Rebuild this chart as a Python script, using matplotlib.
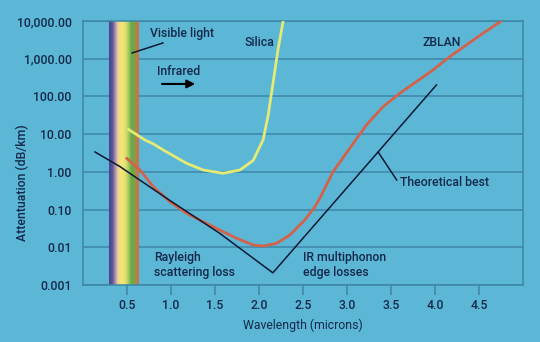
import numpy as np
import matplotlib
matplotlib.use("Agg")
import matplotlib.pyplot as plt
from matplotlib.colors import LinearSegmentedColormap

# Colours
BG = "#5cb7d6"
GRID = "#3d86a6"
TEXT = "#14284a"
SILICA_C = "#e4ea74"
ZBLAN_C = "#d4624a"
BEST_C = "#0b1a33"

plt.rcParams["font.family"] = ["Roboto", "Liberation Sans", "DejaVu Sans"]
plt.rcParams["font.weight"] = "medium"
plt.rcParams["font.size"] = 8.8

# Data (wavelength in microns, attenuation in dB/km)
silica_wl = [0.519, 0.708, 0.802, 0.916, 1.181, 1.369, 1.596, 1.786, 1.937, 1.993, 2.050,
             2.107, 2.164, 2.221, 2.277]
silica_att = [13.4, 7.0, 5.5, 3.79, 1.68, 1.12, 0.914, 1.12, 2.0, 3.79, 7.1,
              32, 245, 1890, 10000]

zblan_wl = [0.500, 0.651, 0.802, 0.991, 1.181, 1.369, 1.557, 1.748, 1.936, 2.050, 2.202,
            2.353, 2.466, 2.523, 2.636, 2.693, 2.844, 3.033, 3.223, 3.411, 3.601, 3.790, 3.979,
            4.168, 4.357, 4.546, 4.754]
zblan_att = [2.29, 1.12, 0.404, 0.161, 0.0796, 0.0476, 0.0287, 0.0173, 0.0115, 0.0108, 0.0127,
             0.0211, 0.0389, 0.0528, 0.117, 0.199, 1.01, 4.21, 17.5, 53.3, 121, 246, 502,
             1130, 2310, 4720, 10000]

best_wl = [0.141, 0.425, 0.991, 1.557, 2.160, 4.017]
best_att = [3.36, 1.37, 0.174, 0.0234, 0.0021, 201]

ytick_vals = [0.001, 0.01, 0.1, 1, 10, 100, 1000, 10000]
ytick_labels = ["0.001", "0.01", "0.10", "1.00", "10.00", "100.00", "1,000.00", "10,000.00"]
xtick_vals = [0.5, 1.0, 1.5, 2.0, 2.5, 3.0, 3.5, 4.0, 4.5]

# visible spectrum band, left to right
band_range = (0.30, 0.645)
band_colors = ["#444690", "#5e5498", "#a88aa8", "#e6d2a4", "#f6e46e", "#f3e476",
               "#d8dc72", "#9cc85c", "#6aaa48", "#78a448", "#c8784a", "#c4724a"]

fig = plt.figure(figsize=(5.4, 3.42), dpi=100, facecolor=BG)
ax = fig.add_axes([0.153, 0.1667, 0.8155, 0.772])
ax.set_facecolor(BG)
ax.set_yscale("log")

# grid
for v in ytick_vals:
    ax.axhline(v, color=GRID, lw=1.1, zorder=1)

# spectrum band
cmap = LinearSegmentedColormap.from_list("spec", band_colors)
grad = np.linspace(0, 1, 200).reshape(1, -1)
ax.imshow(grad, cmap=cmap, aspect="auto", extent=[band_range[0], band_range[1], 1e-3, 1e4],
          zorder=2, interpolation="bilinear")
ax.set_xlim(0, 5)
ax.set_ylim(1e-3, 1e4)

# curves
ax.plot(silica_wl, silica_att, color=SILICA_C, lw=2.0, zorder=4, solid_capstyle="round",
        solid_joinstyle="round")
ax.plot(zblan_wl, zblan_att, color=ZBLAN_C, lw=2.0, zorder=4, solid_capstyle="round",
        solid_joinstyle="round")
ax.plot(best_wl, best_att, color=BEST_C, lw=1.1, zorder=5)

# annotations
ax.plot([0.561, 0.912], [10**3.151, 10**3.417], color=BEST_C, lw=1.1, zorder=5)
ax.text(0.765, 10**3.66, "Visible light", color=TEXT, va="center", ha="left", zorder=6)
ax.text(2.013, 10**3.44, "Silica", color=TEXT, va="center", ha="center")
ax.text(4.077, 10**3.44, "ZBLAN", color=TEXT, va="center", ha="center")
ax.text(0.845, 10**2.65, "Infrared", color=TEXT, va="center", ha="left")
ax.annotate("", xy=(1.31, 10**2.33), xytext=(0.87, 10**2.33),
            arrowprops=dict(arrowstyle="-|>", color="black", lw=1.5, mutation_scale=12))
ax.plot([3.355, 3.566], [10**0.526, 10**-0.216], color=BEST_C, lw=1.1, zorder=5)
ax.text(3.60, 10**-0.27, "Theoretical best", color=TEXT, va="center", ha="left")
ax.text(0.81, 10**-2.47, "Rayleigh\nscattering loss", color=TEXT, va="center", ha="left",
        linespacing=1.15)
ax.text(2.50, 10**-2.47, "IR multiphonon\nedge losses", color=TEXT, va="center", ha="left",
        linespacing=1.15)

# axes styling
for s in ax.spines.values():
    s.set_color(GRID)
    s.set_linewidth(1.1)
ax.set_yticks(ytick_vals)
ax.set_yticklabels(ytick_labels)
ax.minorticks_off()
ax.tick_params(axis="y", length=0, pad=8, colors=TEXT)
ax.set_xticks(xtick_vals)
ax.set_xticklabels([f"{v:.1f}" for v in xtick_vals])
ax.tick_params(axis="x", length=7, width=1.1, direction="out", color=GRID, pad=3, labelcolor=TEXT)
ax.set_xlabel("Wavelength (microns)", color=TEXT, labelpad=5)
fig.text(22 / 540, 1 - 183 / 342, "Attentuation (dB/km)", color=TEXT, rotation=90,
         ha="center", va="center")

fig.savefig("out.png", dpi=100, facecolor=BG)
